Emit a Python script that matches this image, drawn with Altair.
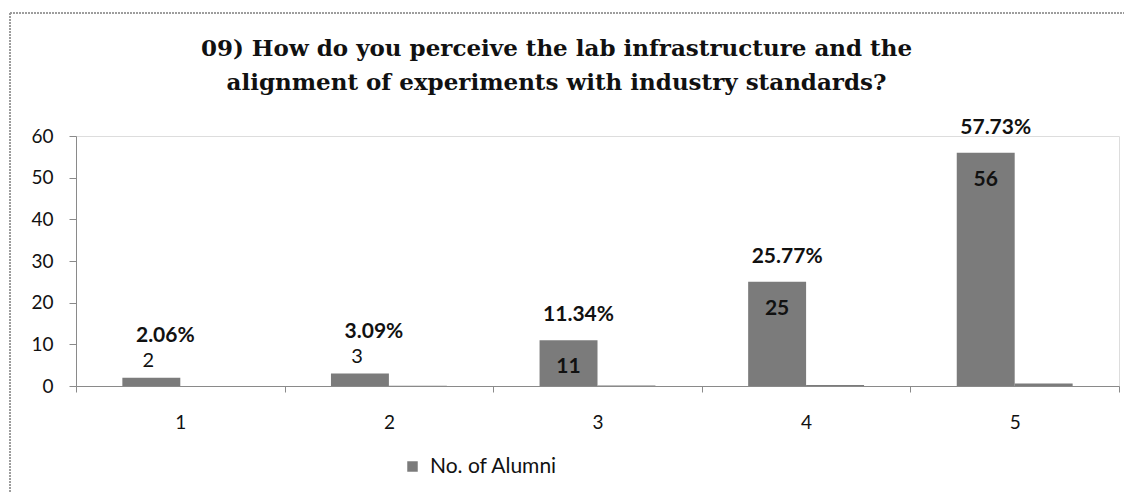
import altair as alt
import pandas as pd

categories = ["1", "2", "3", "4", "5"]
alumni_counts = [2, 3, 11, 25, 56]
percent_values = [2.06, 3.09, 11.34, 25.77, 57.73]
series_names = ["No. of Alumni", "Percentage"]
title_lines = ["09) How do you perceive the lab infrastructure and the",
               "alignment of experiments with industry standards?"]

rows = []
for c, n, p in zip(categories, alumni_counts, percent_values):
    rows.append({"cat": c, "series": series_names[0], "value": n})
    rows.append({"cat": c, "series": series_names[1], "value": p / 100})
bars_df = pd.DataFrame(rows)

labels_df = pd.DataFrame({
    "cat": categories,
    "count": alumni_counts,
    "pct": [f"{p:.2f}%" for p in percent_values],
    "series": series_names[0],
})

W, H = 1043, 250
BAR = "#7b7b7b"
SANS = "Lato"

x_enc = alt.X("cat:N", sort=categories, title=None,
              scale=alt.Scale(paddingInner=0, paddingOuter=0),
              axis=alt.Axis(tickBand="extent", labelAngle=0, labelFontSize=19,
                            labelFont=SANS, labelColor="#111", labelPadding=21,
                            tickSize=6, tickColor="#8a8a8a", domainColor="#8a8a8a",
                            grid=False))
xoff = alt.XOffset("series:N", scale=alt.Scale(domain=series_names, paddingInner=0,
                                               paddingOuter=0.8))
y_scale = alt.Scale(domain=[0, 60])

bars = alt.Chart(bars_df).mark_bar(color=BAR).encode(
    x=x_enc,
    xOffset=xoff,
    y=alt.Y("value:Q", scale=y_scale, title=None,
            axis=alt.Axis(values=[0, 10, 20, 30, 40, 50, 60], labelFontSize=19,
                          labelFont=SANS, labelColor="#111", labelPadding=16,
                          tickSize=7, tickColor="#8a8a8a", domainColor="#8a8a8a",
                          grid=False)),
    color=alt.Color("series:N", scale=alt.Scale(domain=series_names, range=[BAR, BAR]),
                    legend=alt.Legend(values=[series_names[0]], title=None, orient="none",
                                      legendX=326, legendY=320, symbolType="square",
                                      symbolSize=110, symbolStrokeWidth=0,
                                      labelFont=SANS, labelFontSize=21, labelColor="#111",
                                      labelOffset=7)),
)

base = alt.Chart(labels_df).encode(
    x=alt.X("cat:N", sort=categories),
    xOffset=alt.XOffset("series:N"),
    y=alt.Y("count:Q", scale=y_scale),
)

small = alt.datum.count < 10
big = alt.datum.count >= 10

count_small = base.transform_filter(small).mark_text(
    font=SANS, fontSize=20, color="#111", baseline="middle", dy=-17, dx=-3).encode(text="count:Q")
count_big = base.transform_filter(big).mark_text(
    font=SANS, fontSize=21, fontWeight="bold", color="#111", baseline="middle", dy=27
).encode(text="count:Q")
pct_small = base.transform_filter(small).mark_text(
    font=SANS, fontSize=21, fontWeight="bold", color="#111", baseline="middle",
    dy=-42, dx=14).encode(text="pct:N")
pct_big = base.transform_filter(big).mark_text(
    font=SANS, fontSize=21, fontWeight="bold", color="#111", baseline="middle",
    dy=-25, dx=10).encode(text="pct:N")

frame = alt.Chart(labels_df).mark_rect(
    fill=None, stroke="#9a9a9a", strokeWidth=1, strokeDash=[2, 1]
).encode(x=alt.value(-66), x2=alt.value(W + 80), y=alt.value(-123), y2=alt.value(H + 200))

chart = alt.layer(frame, bars, count_small, count_big, pct_small, pct_big).properties(
    width=W, height=H,
    title=alt.TitleParams(text=title_lines, font="DejaVu Serif", fontSize=23,
                          fontWeight="bold", color="#111", anchor="middle", dx=-41,
                          offset=-82, lineHeight=34),
    autosize=alt.AutoSizeParams(type="none"),
    padding={"left": 68, "top": 128, "right": 5, "bottom": 107},
).configure_view(stroke=None).configure(background="white")

chart.save("out.html", embed_options={"renderer": "svg", "actions": False})
